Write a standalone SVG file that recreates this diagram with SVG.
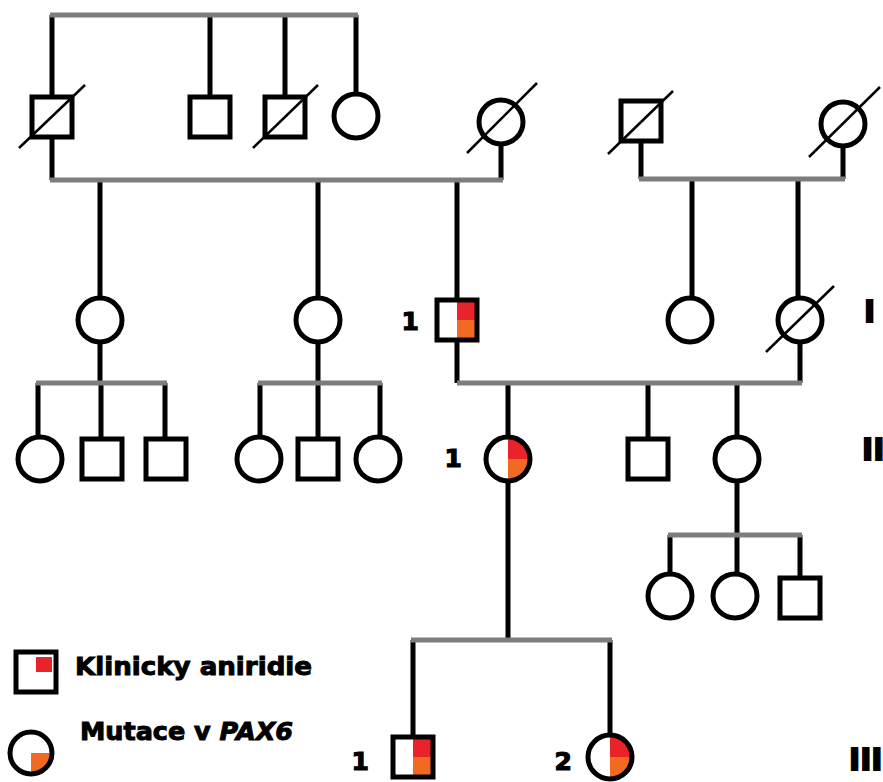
<svg xmlns="http://www.w3.org/2000/svg" width="883" height="782" viewBox="0 0 883 782">
<style>
.v{stroke:#000;stroke-width:5;fill:none}
.h{stroke:#7d7d7d;stroke-width:5;fill:none}
.sym{fill:#fff;stroke:#000;stroke-width:5}
.out{fill:none;stroke:#000;stroke-width:5}
.d{stroke:#000;stroke-width:2.5}
.red{fill:#e8232a}
.org{fill:#f26a21}
.lbl{font-family:"DejaVu Sans",sans-serif;font-weight:bold;font-size:25px;fill:#000;stroke:#000;stroke-width:1.2}
.gen{font-family:"DejaVu Sans",sans-serif;font-weight:bold;font-size:30px;fill:#000;stroke:#000;stroke-width:1.8}
.leg{font-family:"DejaVu Sans",sans-serif;font-weight:bold;font-size:25px;fill:#000;stroke:#000;stroke-width:1}
</style>
<rect width="883" height="782" fill="#fff"/>
<g id="connectors">
<path class="v" d="M52,15V97 M52,139V180 M210,15V97 M285,15V97 M356,15V94 M501,146V180"/>
<path class="v" d="M641,143V179 M843,148V179"/>
<path class="v" d="M100,180V298 M318,180V298 M457,180V300 M692,179V298 M798,179V298"/>
<path class="v" d="M100,342V383 M318,342V383 M457,342V383 M800,342V383"/>
<path class="v" d="M38,383V437 M101,383V439 M165,383V439 M260,383V437 M318,383V439 M380,383V437"/>
<path class="v" d="M508,383V437 M648,383V439 M737,383V437"/>
<path class="v" d="M508,481V640 M737,481V535"/>
<path class="v" d="M413,640V737 M610,640V735"/>
<path class="v" d="M670,535V574 M737,535V574 M800,535V578"/>
<path class="h" d="M50,15H358 M50,180H503 M639,179H845"/>
<path class="h" d="M36,383H167 M258,383H382 M457,383H802"/>
<path class="h" d="M411,640H612 M668,535H802"/>
</g>
<g id="gen0-sq1"><rect class="sym" x="32" y="97" width="40" height="40"/><line class="d" x1="19" y1="148" x2="85" y2="85"/></g>
<g id="gen0-sq2"><rect class="sym" x="190" y="97" width="40" height="40"/></g>
<g id="gen0-sq3"><rect class="sym" x="265" y="97" width="40" height="40"/><line class="d" x1="253" y1="148" x2="318" y2="85"/></g>
<g id="gen0-c1"><circle class="sym" cx="356" cy="116" r="22"/></g>
<g id="gen0-c2"><circle class="sym" cx="501" cy="122" r="22"/><line class="d" x1="467" y1="153" x2="537" y2="83"/></g>
<g id="gen0-sq4"><rect class="sym" x="621" y="101" width="40" height="40"/><line class="d" x1="608" y1="154" x2="673" y2="91"/></g>
<g id="gen0-c3"><circle class="sym" cx="843" cy="124" r="22"/><line class="d" x1="809" y1="157" x2="880" y2="87"/></g>

<g id="I-c1"><circle class="sym" cx="100" cy="320" r="22"/></g>
<g id="I-c2"><circle class="sym" cx="318" cy="320" r="22"/></g>
<g id="I-1"><rect x="437" y="300" width="40" height="40" fill="#fff"/><rect class="red" x="457" y="300" width="20" height="20"/><rect class="org" x="457" y="320" width="20" height="20"/><rect class="out" x="437" y="300" width="40" height="40"/><text class="lbl" x="419" y="330" text-anchor="end">1</text></g>
<g id="I-c3"><circle class="sym" cx="690" cy="320" r="22"/></g>
<g id="I-c4"><circle class="sym" cx="800" cy="320" r="22"/><line class="d" x1="766" y1="352" x2="834" y2="286"/></g>

<g id="II-a1"><circle class="sym" cx="40" cy="459" r="22"/></g>
<g id="II-a2"><rect class="sym" x="82" y="439" width="40" height="40"/></g>
<g id="II-a3"><rect class="sym" x="146" y="439" width="40" height="40"/></g>
<g id="II-b1"><circle class="sym" cx="259" cy="459" r="22"/></g>
<g id="II-b2"><rect class="sym" x="298" y="439" width="40" height="40"/></g>
<g id="II-b3"><circle class="sym" cx="378" cy="459" r="22"/></g>
<g id="II-1"><circle cx="508" cy="459" r="22" fill="#fff"/><path class="red" d="M508,459V437A22,22 0 0 1 530,459Z"/><path class="org" d="M508,459H530A22,22 0 0 1 508,481Z"/><circle class="out" cx="508" cy="459" r="22"/><text class="lbl" x="462" y="467" text-anchor="end">1</text></g>
<g id="II-sq"><rect class="sym" x="628" y="439" width="40" height="40"/></g>
<g id="II-c"><circle class="sym" cx="737" cy="459" r="22"/></g>

<g id="III-c1"><circle class="sym" cx="670" cy="596" r="22"/></g>
<g id="III-c2"><circle class="sym" cx="735" cy="596" r="22"/></g>
<g id="III-sq"><rect class="sym" x="780" y="578" width="40" height="40"/></g>

<g id="III-1"><rect x="393" y="737" width="40" height="40" fill="#fff"/><rect class="red" x="413" y="737" width="20" height="20"/><rect class="org" x="413" y="757" width="20" height="20"/><rect class="out" x="393" y="737" width="40" height="40"/><text class="lbl" x="369" y="770" text-anchor="end">1</text></g>
<g id="III-2"><circle cx="610" cy="757" r="22" fill="#fff"/><path class="red" d="M610,757V735A22,22 0 0 1 632,757Z"/><path class="org" d="M610,757H632A22,22 0 0 1 610,779Z"/><circle class="out" cx="610" cy="757" r="22"/><text class="lbl" x="572" y="770" text-anchor="end">2</text></g>

<g id="gen-labels">
<text class="gen" x="864" y="322">I</text>
<text class="gen" x="862" y="460">II</text>
<text class="gen" x="849" y="770">III</text>
</g>

<g id="legend">
<g id="leg-sq"><rect x="16" y="652" width="40" height="40" fill="#fff"/><rect class="red" x="36" y="657" width="16" height="15"/><rect class="out" x="16" y="652" width="40" height="40"/></g>
<text class="leg" x="75" y="675" textLength="237" lengthAdjust="spacingAndGlyphs">Klinicky aniridie</text>
<g id="leg-c"><circle cx="31" cy="753" r="21" fill="#fff"/><path class="org" d="M31,753H50A19,19 0 0 1 31,772Z"/><circle class="out" cx="31" cy="753" r="21"/></g>
<text class="leg" x="80" y="740" textLength="213" lengthAdjust="spacingAndGlyphs">Mutace v <tspan font-style="italic">PAX6</tspan></text>
</g>
</svg>
